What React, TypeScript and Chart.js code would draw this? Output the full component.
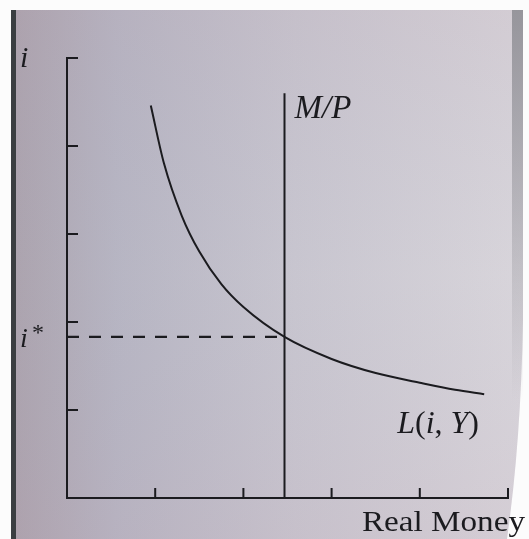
import React, { useEffect, useRef } from "react";
import { Chart, registerables } from "chart.js";

Chart.register(...registerables);

// Money demand curve L(i, Y): real money held vs. interest rate
const demandMoney = [0.95, 1.1, 1.3, 1.5, 1.75, 2.0, 2.466, 3.0, 3.5, 4.0, 4.4, 4.73];
const demandRate = [4.46, 3.8, 3.21, 2.8, 2.43, 2.17, 1.83, 1.58, 1.42, 1.31, 1.23, 1.18];

// Fixed real money supply M/P and the equilibrium rate i*
const realMoneySupply = 2.466;
const supplyTop = 4.6;
const iStar = 1.83;

// Tick positions on both axes
const xTicks = [1, 2, 3, 4, 5];
const yTicks = [1, 2, 3, 4, 5];

const INK = "#1b1b1f";
const SERIF = '"Liberation Serif", "DejaVu Serif", serif';

type Run = [string, string];

function drawRuns(ctx: CanvasRenderingContext2D, runs: Run[], x: number, y: number) {
  let cx = x;
  for (const [font, text] of runs) {
    ctx.font = font;
    ctx.fillText(text, cx, y);
    cx += ctx.measureText(text).width;
  }
}

const pageBackground = {
  id: "pageBackground",
  beforeDraw(chart: Chart) {
    const { ctx, width, height } = chart;
    ctx.save();
    ctx.fillStyle = "#fcfcfc";
    ctx.fillRect(0, 0, width, height);

    ctx.beginPath();
    ctx.moveTo(16, 10);
    ctx.lineTo(523, 10);
    ctx.lineTo(523, 320);
    ctx.quadraticCurveTo(521, 440, 507, height);
    ctx.lineTo(16, height);
    ctx.closePath();

    const g = ctx.createLinearGradient(16, 0, 523, 0);
    g.addColorStop(0, "#ada4ae");
    g.addColorStop(0.2, "#b8b6c3");
    g.addColorStop(0.55, "#cac7d0");
    g.addColorStop(1, "#dbd7dc");
    ctx.fillStyle = g;
    ctx.fill();

    const v = ctx.createLinearGradient(0, 10, 0, height);
    v.addColorStop(0, "rgba(172,152,170,0.16)");
    v.addColorStop(0.5, "rgba(150,160,190,0.04)");
    v.addColorStop(1, "rgba(178,150,170,0.14)");
    ctx.fillStyle = v;
    ctx.fill();

    const s = ctx.createLinearGradient(0, 10, 0, 400);
    s.addColorStop(0, "rgba(140,140,146,0.85)");
    s.addColorStop(1, "rgba(140,140,146,0)");
    ctx.fillStyle = s;
    ctx.fillRect(512, 10, 11, 390);

    ctx.fillStyle = "#3a3e41";
    ctx.fillRect(11, 10, 5, height - 10);
    ctx.restore();
  },
};

const innerTicks = {
  id: "innerTicks",
  afterDatasetsDraw(chart: Chart) {
    const { ctx, chartArea } = chart;
    const xs = chart.scales.x;
    const ys = chart.scales.y;
    ctx.save();
    ctx.strokeStyle = INK;
    ctx.lineWidth = 2;
    ctx.beginPath();
    for (const v of xTicks) {
      const px = xs.getPixelForValue(v);
      ctx.moveTo(px, chartArea.bottom);
      ctx.lineTo(px, chartArea.bottom - 10);
    }
    for (const v of yTicks) {
      const py = ys.getPixelForValue(v);
      ctx.moveTo(chartArea.left, py);
      ctx.lineTo(chartArea.left + 11, py);
    }
    ctx.stroke();
    ctx.restore();
  },
};

const labels = {
  id: "labels",
  afterDraw(chart: Chart) {
    const { ctx, chartArea } = chart;
    const xs = chart.scales.x;
    const ys = chart.scales.y;
    ctx.save();
    ctx.fillStyle = INK;
    ctx.textBaseline = "alphabetic";
    ctx.textAlign = "left";

    // axis names
    ctx.font = `italic 30px ${SERIF}`;
    ctx.fillText("i", 20, chartArea.top + 9);

    const iy = ys.getPixelForValue(iStar);
    ctx.font = `italic 28px ${SERIF}`;
    ctx.fillText("i", 20, iy + 10);
    ctx.font = `24px ${SERIF}`;
    ctx.fillText("*", 32, iy + 3);

    // curve labels
    const mx = xs.getPixelForValue(realMoneySupply);
    const mTop = ys.getPixelForValue(supplyTop);
    drawRuns(ctx, [[`italic 33px ${SERIF}`, "M/P"]], mx + 10, mTop + 25);

    const lx = xs.getPixelForValue(demandMoney[demandMoney.length - 1]);
    drawRuns(
      ctx,
      [
        [`italic 32px ${SERIF}`, "L"],
        [`32px ${SERIF}`, "("],
        [`italic 32px ${SERIF}`, "i"],
        [`32px ${SERIF}`, ", "],
        [`italic 32px ${SERIF}`, "Y"],
        [`32px ${SERIF}`, ")"],
      ],
      lx - 87,
      chartArea.bottom - 65
    );

    // x axis title, stretched to the printed width
    ctx.font = `30px ${SERIF}`;
    const w = ctx.measureText("Real Money").width;
    const target = 163;
    ctx.translate(362, chartArea.bottom + 33);
    ctx.scale(target / w, 1);
    ctx.fillText("Real Money", 0, 0);
    ctx.restore();
  },
};

export default function App() {
  const ref = useRef<HTMLCanvasElement | null>(null);

  useEffect(() => {
    if (!ref.current) return;
    const chart = new Chart(ref.current, {
      type: "scatter",
      data: {
        datasets: [
          {
            data: demandMoney.map((m, k) => ({ x: m, y: demandRate[k] })),
            showLine: true,
            borderColor: INK,
            borderWidth: 2,
            pointRadius: 0,
            cubicInterpolationMode: "monotone",
          },
          {
            data: [
              { x: realMoneySupply, y: 0 },
              { x: realMoneySupply, y: supplyTop },
            ],
            showLine: true,
            borderColor: INK,
            borderWidth: 2,
            pointRadius: 0,
          },
          {
            data: [
              { x: 0, y: iStar },
              { x: realMoneySupply, y: iStar },
            ],
            showLine: true,
            borderColor: INK,
            borderWidth: 2.2,
            borderDash: [12, 10],
            pointRadius: 0,
          },
        ],
      },
      options: {
        animation: false,
        responsive: false,
        devicePixelRatio: 1,
        layout: { padding: { left: 59, top: 58, right: 21, bottom: 33 } },
        plugins: { legend: { display: false }, tooltip: { enabled: false } },
        events: [],
        scales: {
          x: {
            type: "linear",
            min: 0,
            max: 5,
            grid: { display: false },
            ticks: { display: false },
            border: { display: true, color: INK, width: 2 },
          },
          y: {
            type: "linear",
            min: 0,
            max: 5,
            grid: { display: false },
            ticks: { display: false },
            border: { display: true, color: INK, width: 2 },
          },
        },
      },
      plugins: [pageBackground, innerTicks, labels],
    });
    return () => chart.destroy();
  }, []);

  return (
    <div style={{ position: "fixed", left: 0, top: 0, width: 529, height: 539 }}>
      <canvas ref={ref} width={529} height={539} style={{ display: "block" }} />
    </div>
  );
}
